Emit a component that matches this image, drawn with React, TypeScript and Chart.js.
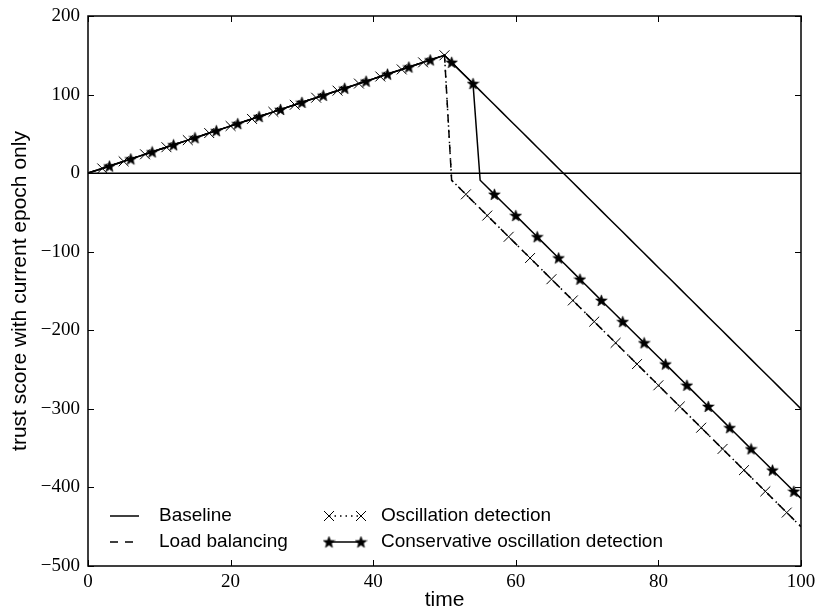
import React, { useEffect, useRef } from "react";
import { Chart, registerables } from "chart.js";

Chart.register(...registerables);

// ---------- data ----------
const timeSteps = [
  0, 1, 2, 3, 4, 5, 6, 7, 8, 9, 10, 11, 12, 13, 14, 15, 16, 17, 18, 19, 20,
  21, 22, 23, 24, 25, 26, 27, 28, 29, 30, 31, 32, 33, 34, 35, 36, 37, 38, 39, 40,
  41, 42, 43, 44, 45, 46, 47, 48, 49, 50, 51, 52, 53, 54, 55, 56, 57, 58, 59, 60,
  61, 62, 63, 64, 65, 66, 67, 68, 69, 70, 71, 72, 73, 74, 75, 76, 77, 78, 79, 80,
  81, 82, 83, 84, 85, 86, 87, 88, 89, 90, 91, 92, 93, 94, 95, 96, 97, 98, 99, 100,
];

// t = 0..50 (shared by all strategies)
const risingPhase = [
  0, 3, 6, 9, 12, 15, 18, 21, 24, 27, 30, 33, 36, 39, 42, 45, 48, 51, 54, 57, 60,
  63, 66, 69, 72, 75, 78, 81, 84, 87, 90, 93, 96, 99, 102, 105, 108, 111, 114, 117, 120,
  123, 126, 129, 132, 135, 138, 141, 144, 147, 150,
];

// t = 51..100
const baselineDecline = [
  141, 132, 123, 114, 105, 96, 87, 78, 69, 60, 51, 42, 33, 24, 15, 6, -3, -12, -21, -30,
  -39, -48, -57, -66, -75, -84, -93, -102, -111, -120, -129, -138, -147, -156, -165, -174,
  -183, -192, -201, -210, -219, -228, -237, -246, -255, -264, -273, -282, -291, -300,
];

const oscillationDecline = [
  -9, -18, -27, -36, -45, -54, -63, -72, -81, -90, -99, -108, -117, -126, -135, -144,
  -153, -162, -171, -180, -189, -198, -207, -216, -225, -234, -243, -252, -261, -270,
  -279, -288, -297, -306, -315, -324, -333, -342, -351, -360, -369, -378, -387, -396,
  -405, -414, -423, -432, -441, -450,
];

const conservativeDecline = [
  141, 132, 123, 114, -9, -18, -27, -36, -45, -54, -63, -72, -81, -90, -99, -108, -117,
  -126, -135, -144, -153, -162, -171, -180, -189, -198, -207, -216, -225, -234, -243,
  -252, -261, -270, -279, -288, -297, -306, -315, -324, -333, -342, -351, -360, -369,
  -378, -387, -396, -405, -414,
];

const baselineValues = [...risingPhase, ...baselineDecline];
const loadBalancingValues = [...risingPhase, ...oscillationDecline];
const oscillationValues = [...risingPhase, ...oscillationDecline];
const conservativeValues = [...risingPhase, ...conservativeDecline];

const zeroLineX = [0, 100];
const zeroLineY = [0, 0];

const xAxisRange = [0, 100];
const yAxisRange = [-500, 200];
const xTickStep = 20;
const yTickStep = 100;

const seriesLabels = [
  "Baseline",
  "Load balancing",
  "Oscillation detection",
  "Conservative oscillation detection",
];

// ---------- helpers ----------
const SANS = '"Liberation Sans", Arial, sans-serif';
const SERIF = '"Liberation Serif", "Times New Roman", serif';

function toPoints(xs: number[], ys: number[]) {
  return ys.map((y, i) => ({ x: xs[i], y }));
}

function makeStar(size: number): HTMLCanvasElement {
  const c = document.createElement("canvas");
  c.width = size;
  c.height = size;
  const g = c.getContext("2d")!;
  const cx = size / 2;
  const cy = size / 2 + 0.5;
  const R = size / 2 - 0.4;
  const r = R * 0.42;
  g.beginPath();
  for (let i = 0; i < 10; i++) {
    const ang = -Math.PI / 2 + (i * Math.PI) / 5;
    const rad = i % 2 === 0 ? R : r;
    g.lineTo(cx + rad * Math.cos(ang), cy + rad * Math.sin(ang));
  }
  g.closePath();
  g.fillStyle = "#000";
  g.fill();
  g.lineWidth = 0.6;
  g.strokeStyle = "#000";
  g.stroke();
  return c;
}

function drawCross(ctx: CanvasRenderingContext2D, x: number, y: number, h: number) {
  ctx.save();
  ctx.setLineDash([]);
  ctx.lineWidth = 1;
  ctx.strokeStyle = "#000";
  ctx.beginPath();
  ctx.moveTo(x - h, y - h);
  ctx.lineTo(x + h, y + h);
  ctx.moveTo(x - h, y + h);
  ctx.lineTo(x + h, y - h);
  ctx.stroke();
  ctx.restore();
}

const LW = 1.5;
const DASH = [8, 7];
const DOT = [1.5, 4];

const frameTicksPlugin = {
  id: "frameTicks",
  afterDatasetsDraw(chart: any) {
    const { ctx, chartArea: a, scales } = chart;
    const xs = scales.x;
    const ys = scales.y;
    ctx.save();
    ctx.strokeStyle = "#000";
    ctx.lineWidth = 1;
    ctx.setLineDash([]);
    ctx.beginPath();
    for (const t of xs.ticks) {
      const px = Math.round(xs.getPixelForValue(t.value)) + 0.5;
      ctx.moveTo(px, a.bottom);
      ctx.lineTo(px, a.bottom - 6);
      ctx.moveTo(px, a.top);
      ctx.lineTo(px, a.top + 6);
    }
    for (const t of ys.ticks) {
      const py = Math.round(ys.getPixelForValue(t.value)) + 0.5;
      ctx.moveTo(a.left, py);
      ctx.lineTo(a.left + 6, py);
      ctx.moveTo(a.right, py);
      ctx.lineTo(a.right - 6, py);
    }
    ctx.stroke();
    ctx.lineWidth = 1.5;
    ctx.strokeRect(a.left, a.top, a.right - a.left, a.bottom - a.top);
    ctx.restore();
  },
};

function makeLegendPlugin(star: HTMLCanvasElement) {
  return {
    id: "mplLegend",
    afterDraw(chart: any) {
      const { ctx, chartArea: a } = chart;
      const row1 = a.bottom - 50;
      const row2 = a.bottom - 24;
      const c1s = a.left + 22;
      const c1e = a.left + 51;
      const c1t = a.left + 71;
      const c2s = a.left + 241;
      const c2e = a.left + 273;
      const c2t = a.left + 293;
      ctx.save();
      ctx.strokeStyle = "#000";
      ctx.lineWidth = LW;
      // Baseline
      ctx.setLineDash([]);
      ctx.beginPath();
      ctx.moveTo(c1s, row1);
      ctx.lineTo(c1e, row1);
      ctx.stroke();
      // Load balancing
      ctx.setLineDash(DASH);
      ctx.beginPath();
      ctx.moveTo(c1s, row2);
      ctx.lineTo(c1e, row2);
      ctx.stroke();
      // Oscillation detection
      ctx.setLineDash(DOT);
      ctx.beginPath();
      ctx.moveTo(c2s, row1);
      ctx.lineTo(c2e, row1);
      ctx.stroke();
      drawCross(ctx, c2s, row1, 5);
      drawCross(ctx, c2e, row1, 5);
      // Conservative
      ctx.setLineDash([]);
      ctx.beginPath();
      ctx.moveTo(c2s, row2);
      ctx.lineTo(c2e, row2);
      ctx.stroke();
      ctx.drawImage(star, c2s - star.width / 2, row2 - star.height / 2);
      ctx.drawImage(star, c2e - star.width / 2, row2 - star.height / 2);
      // text
      ctx.fillStyle = "#000";
      ctx.font = `19px ${SANS}`;
      ctx.textBaseline = "middle";
      ctx.textAlign = "left";
      ctx.fillText(seriesLabels[0], c1t, row1);
      ctx.fillText(seriesLabels[1], c1t, row2);
      ctx.fillText(seriesLabels[2], c2t, row1);
      ctx.fillText(seriesLabels[3], c2t, row2);
      ctx.restore();
    },
  };
}

const minusTick = (v: any) => String(v).replace("-", "\u2212");

export default function App() {
  const ref = useRef<HTMLCanvasElement | null>(null);

  useEffect(() => {
    if (!ref.current) return;
    const star = makeStar(13);
    const chart = new Chart(ref.current, {
      type: "line",
      data: {
        datasets: [
          {
            label: "zero",
            data: toPoints(zeroLineX, zeroLineY),
            borderColor: "#000",
            borderWidth: LW,
            pointRadius: 0,
            fill: false,
          },
          {
            label: seriesLabels[0],
            data: toPoints(timeSteps, baselineValues),
            borderColor: "#000",
            borderWidth: LW,
            pointRadius: 0,
            fill: false,
          },
          {
            label: seriesLabels[1],
            data: toPoints(timeSteps, loadBalancingValues),
            borderColor: "#000",
            borderWidth: LW,
            borderDash: DASH,
            pointRadius: 0,
            fill: false,
          },
          {
            label: seriesLabels[2],
            data: toPoints(timeSteps, oscillationValues),
            borderColor: "#000",
            borderWidth: LW,
            borderDash: DOT,
            pointStyle: "crossRot",
            pointRadius: (c: any) => (c.dataIndex % 3 === 2 ? 7 : 0),
            pointBorderWidth: 1,
            pointBorderColor: "#000",
            fill: false,
          },
          {
            label: seriesLabels[3],
            data: toPoints(timeSteps, conservativeValues),
            borderColor: "#000",
            borderWidth: LW,
            pointStyle: star as any,
            pointRadius: (c: any) => (c.dataIndex % 3 === 0 && c.dataIndex > 0 ? 6 : 0),
            fill: false,
          },
        ],
      },
      options: {
        animation: false,
        responsive: false,
        events: [],
        layout: { padding: { top: 16, right: 14, left: 0, bottom: 0 } },
        plugins: { legend: { display: false }, tooltip: { enabled: false } },
        scales: {
          x: {
            type: "linear",
            min: xAxisRange[0],
            max: xAxisRange[1],
            grid: { display: false, drawTicks: false },
            border: { display: false },
            ticks: {
              stepSize: xTickStep,
              color: "#000",
              font: { family: SERIF, size: 19 },
              padding: 5,
              maxRotation: 0,
              autoSkip: false,
              callback: minusTick,
            },
            title: {
              display: true,
              text: "time",
              color: "#000",
              font: { family: SANS, size: 21 },
              padding: { top: 0, bottom: 1 },
            },
            afterFit: (s: any) => {
              s.height = 48;
              s.paddingLeft = 0;
              s.paddingRight = 0;
            },
          },
          y: {
            type: "linear",
            min: yAxisRange[0],
            max: yAxisRange[1],
            grid: { display: false, drawTicks: false },
            border: { display: false },
            ticks: {
              stepSize: yTickStep,
              color: "#000",
              font: { family: SERIF, size: 19 },
              padding: 8,
              autoSkip: false,
              callback: minusTick,
            },
            title: {
              display: true,
              text: "trust score with current epoch only",
              color: "#000",
              font: { family: SANS, size: 21 },
              padding: { top: 8, bottom: 0 },
            },
            afterFit: (s: any) => {
              s.width = 88;
              s.paddingTop = 0;
              s.paddingBottom = 0;
            },
          },
        },
      },
      plugins: [frameTicksPlugin, makeLegendPlugin(star)],
    });
    return () => chart.destroy();
  }, []);

  return (
    <div style={{ position: "fixed", left: 0, top: 0, width: 815, height: 614, background: "#fff" }}>
      <canvas ref={ref} width={815} height={614} style={{ display: "block" }} />
    </div>
  );
}
